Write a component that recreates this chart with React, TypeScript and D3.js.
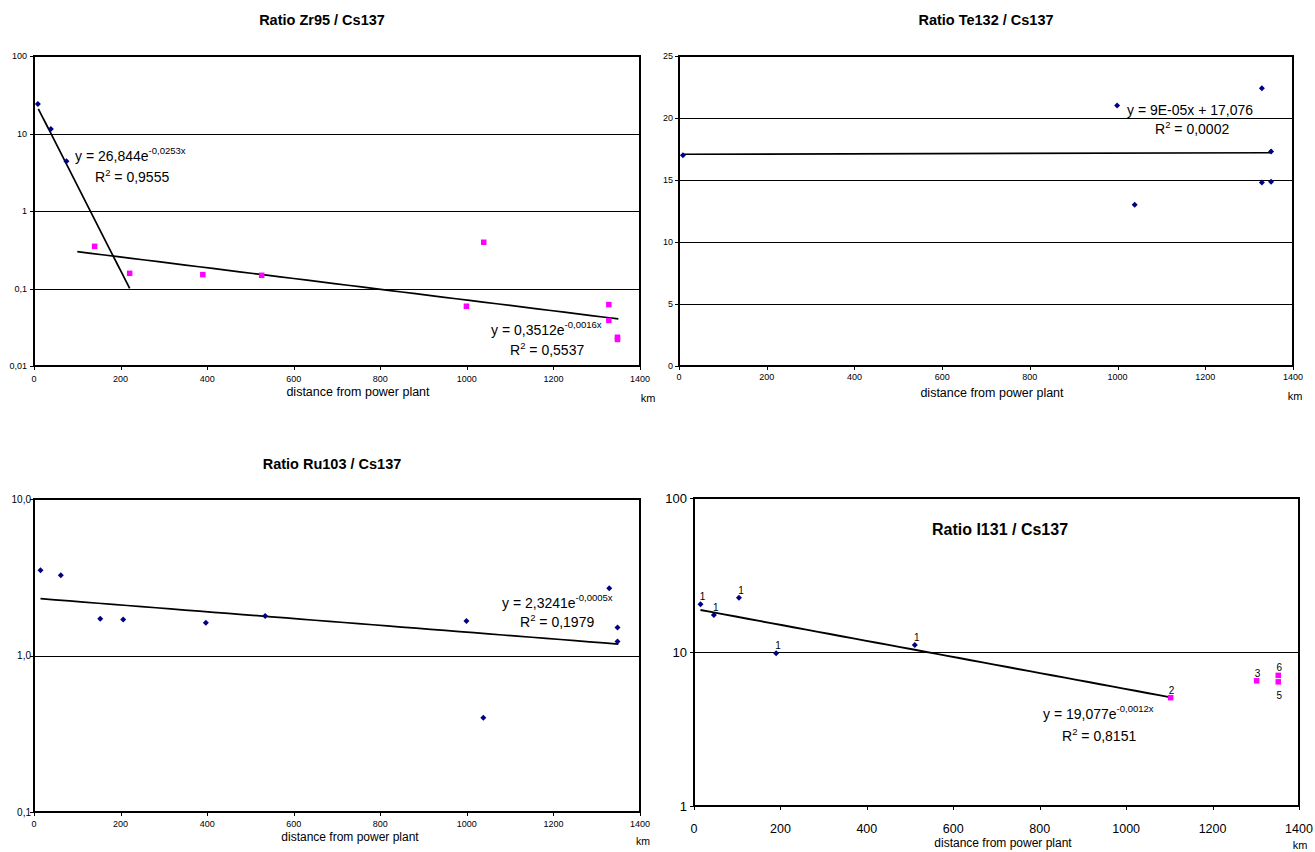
import React from 'react';
import * as d3 from 'd3';

const FONT = 'Liberation Sans, Arial, sans-serif';

// shared x ticks (km)
const xTicks = [0, 200, 400, 600, 800, 1000, 1200, 1400];

// ---------- Zr95 / Cs137 ----------
const zrBlueKm = [9, 39, 75];
const zrBlueVal = [24, 11.4, 4.4];
const zrPinkKm = [140, 221, 390, 526, 999, 1039, 1328, 1328, 1348, 1348];
const zrPinkVal = [0.35, 0.157, 0.151, 0.148, 0.059, 0.395, 0.062, 0.0387, 0.0235, 0.022];
const zrYTicks = [0.01, 0.1, 1, 10, 100];
const zrYLabels = ['0,01', '0,1', '1', '10', '100'];

// ---------- Te132 / Cs137 ----------
const teKm = [9, 999, 1039, 1329, 1329, 1350, 1350];
const teVal = [17.0, 21.0, 13.0, 22.4, 14.8, 17.3, 14.85];
const teYTicks = [0, 5, 10, 15, 20, 25];
const teYLabels = ['0', '5', '10', '15', '20', '25'];

// ---------- Ru103 / Cs137 ----------
const ruKm = [15, 62, 153, 206, 397, 534, 999, 1038, 1329, 1348, 1348];
const ruVal = [3.5, 3.26, 1.72, 1.7, 1.62, 1.79, 1.66, 0.4, 2.69, 1.51, 1.23];
const ruYTicks = [0.1, 1, 10];
const ruYLabels = ['0,1', '1,0', '10,0'];

// ---------- I131 / Cs137 ----------
const iBlueKm = [15, 46, 104, 190, 511];
const iBlueVal = [20.4, 17.4, 22.5, 9.8, 11.1];
const iBlueLabels = ['1', '1', '1', '1', '1'];
const iPinkKm = [1103, 1302, 1352, 1352];
const iPinkVal = [5.05, 6.5, 7.05, 6.4];
const iPinkLabels = ['2', '3', '6', '5'];
const iPinkLabelBelow = [false, false, false, true];
const iYTicks = [1, 10, 100];
const iYLabels = ['1', '10', '100'];

// trend lines (from the displayed equations)
const zrTrend = [
  { a: 26.844, b: -0.0253, from: 10, to: 221 },
  { a: 0.3512, b: -0.0016, from: 100, to: 1350 },
];
const teTrend = { slope: 9e-5, intercept: 17.076, from: 9, to: 1350 };
const ruTrend = { a: 2.3241, b: -0.0005, from: 15, to: 1350 };
const iTrend = { a: 19.077, b: -0.0012, from: 15, to: 1103 };

const NAVY = '#000080';
const MAGENTA = '#FF00FF';

type Scale = (v: number) => number;

function expPath(x: Scale, y: Scale, a: number, b: number, from: number, to: number) {
  const n = 40;
  const pts = d3.range(n + 1).map((i) => from + ((to - from) * i) / n);
  return d3.line<number>().x((d) => x(d)).y((d) => y(a * Math.exp(b * d)))(pts) || '';
}

function Diamond({ cx, cy }: { cx: number; cy: number }) {
  const r = 3;
  return <path d={`M${cx},${cy - r}L${cx + r},${cy}L${cx},${cy + r}L${cx - r},${cy}Z`} fill={NAVY} />;
}
function Square({ cx, cy }: { cx: number; cy: number }) {
  const s = 5.5;
  return <rect x={cx - s / 2} y={cy - s / 2} width={s} height={s} fill={MAGENTA} />;
}

function Frame(props: {
  x: any; y: any; xr: [number, number]; yr: [number, number];
  yTicks: number[]; yLabels: string[]; grid: number[];
  yFont: number; xFont: number; yLabelX: number; xLabelY: number;
  distY: number; distX: number; distFont: number; kmX: number; kmY: number; kmFont: number;
}) {
  const { x, y, xr, yr } = props;
  return (
    <g>
      <g shapeRendering="crispEdges">
        {props.grid.map((g) => (
          <line key={'g' + g} x1={xr[0]} x2={xr[1]} y1={Math.round(y(g)) + 0.5} y2={Math.round(y(g)) + 0.5} stroke="#000" strokeWidth={1} />
        ))}
        <rect x={xr[0]} y={yr[1]} width={xr[1] - xr[0]} height={yr[0] - yr[1]} fill="none" stroke="#000" strokeWidth={1.5} />
        <line x1={xr[0]} x2={xr[0]} y1={yr[1]} y2={yr[0]} stroke="#000" strokeWidth={2} />
        <line x1={xr[0]} x2={xr[1]} y1={yr[0]} y2={yr[0]} stroke="#000" strokeWidth={2} />
        {props.yTicks.map((t) => (
          <line key={'yt' + t} x1={xr[0] - 4} x2={xr[0]} y1={Math.round(y(t)) + 0.5} y2={Math.round(y(t)) + 0.5} stroke="#000" strokeWidth={1} />
        ))}
        {xTicks.map((t) => (
          <line key={'xt' + t} x1={Math.round(x(t)) + 0.5} x2={Math.round(x(t)) + 0.5} y1={yr[0]} y2={yr[0] + 4} stroke="#000" strokeWidth={1} />
        ))}
      </g>
      {props.yTicks.map((t, i) => (
        <text key={'yl' + t} x={props.yLabelX} y={y(t)} dy="0.35em" textAnchor="end" fontSize={props.yFont} fontFamily={FONT}>
          {props.yLabels[i]}
        </text>
      ))}
      {xTicks.map((t) => (
        <text key={'xl' + t} x={x(t)} y={props.xLabelY} textAnchor="middle" fontSize={props.xFont} fontFamily={FONT}>
          {t}
        </text>
      ))}
      <text x={props.distX} y={props.distY} textAnchor="middle" fontSize={props.distFont} fontFamily={FONT}>
        distance from power plant
      </text>
      <text x={props.kmX} y={props.kmY} textAnchor="middle" fontSize={props.kmFont} fontFamily={FONT}>
        km
      </text>
    </g>
  );
}

function ExpEq({ x, y, coef, exp, r2, rx, ry, size }: any) {
  const s = size * 0.68;
  return (
    <g fontFamily={FONT} fontSize={size}>
      <text x={x} y={y}>
        y = {coef}e<tspan fontSize={s} dy={-size * 0.5}>{exp}</tspan>
      </text>
      <text x={rx} y={ry}>
        R<tspan fontSize={s} dy={-size * 0.45}>2</tspan>
        <tspan dy={size * 0.45}> = {r2}</tspan>
      </text>
    </g>
  );
}

export default function App() {
  // Panel 1
  const x1 = d3.scaleLinear().domain([0, 1400]).range([34, 640]);
  const y1 = d3.scaleLog().domain([0.01, 100]).range([366, 56]);
  // Panel 2
  const x2 = d3.scaleLinear().domain([0, 1400]).range([679, 1293]);
  const y2 = d3.scaleLinear().domain([0, 25]).range([366, 56]);
  // Panel 3
  const x3 = d3.scaleLinear().domain([0, 1400]).range([34, 640]);
  const y3 = d3.scaleLog().domain([0.1, 10]).range([812, 499]);
  // Panel 4
  const x4 = d3.scaleLinear().domain([0, 1400]).range([694, 1299]);
  const y4 = d3.scaleLog().domain([1, 100]).range([806, 498]);

  return (
    <svg width={1315} height={852} style={{ position: 'absolute', left: 0, top: 0, background: '#fff' }}>
      <rect width={1315} height={852} fill="#fff" />

      {/* ---------- Panel 1 ---------- */}
      <text x={322} y={25} textAnchor="middle" fontSize={14.5} fontWeight="bold" fontFamily={FONT}>
        Ratio Zr95 / Cs137
      </text>
      <Frame x={x1} y={y1} xr={[34, 640]} yr={[366, 56]} yTicks={zrYTicks} yLabels={zrYLabels}
        grid={[0.1, 1, 10]} yFont={9} xFont={9} yLabelX={27} xLabelY={382}
        distX={358} distY={396} distFont={12.5} kmX={648} kmY={402} kmFont={11} />
      {zrTrend.map((t, i) => (
        <path key={'zt' + i} d={expPath(x1, y1, t.a, t.b, t.from, t.to)} fill="none" stroke="#000" strokeWidth={1.7} />
      ))}
      {zrBlueKm.map((k, i) => <Diamond key={'zb' + i} cx={x1(k)} cy={y1(zrBlueVal[i])} />)}
      {zrPinkKm.map((k, i) => <Square key={'zp' + i} cx={x1(k)} cy={y1(zrPinkVal[i])} />)}
      <ExpEq x={75} y={161} coef="26,844" exp="-0,0253x" r2="0,9555" rx={95} ry={182} size={14} />
      <ExpEq x={491} y={335} coef="0,3512" exp="-0,0016x" r2="0,5537" rx={510} ry={355} size={14} />

      {/* ---------- Panel 2 ---------- */}
      <text x={986} y={25} textAnchor="middle" fontSize={14.5} fontWeight="bold" fontFamily={FONT}>
        Ratio Te132 / Cs137
      </text>
      <Frame x={x2} y={y2} xr={[679, 1293]} yr={[366, 56]} yTicks={teYTicks} yLabels={teYLabels}
        grid={[5, 10, 15, 20]} yFont={9} xFont={9} yLabelX={673} xLabelY={380}
        distX={992} distY={397} distFont={12.5} kmX={1295} kmY={400} kmFont={11} />
      <path
        d={d3.line<number>().x((d) => x2(d)).y((d) => y2(teTrend.slope * d + teTrend.intercept))([teTrend.from, teTrend.to]) || ''}
        fill="none" stroke="#000" strokeWidth={1.7} />
      {teKm.map((k, i) => <Diamond key={'te' + i} cx={x2(k)} cy={y2(teVal[i])} />)}
      <g fontFamily={FONT} fontSize={14}>
        <text x={1127} y={115}>y = 9E-05x + 17,076</text>
        <text x={1155} y={134}>
          R<tspan fontSize={9.5} dy={-6.3}>2</tspan>
          <tspan dy={6.3}> = 0,0002</tspan>
        </text>
      </g>

      {/* ---------- Panel 3 ---------- */}
      <text x={332} y={469} textAnchor="middle" fontSize={14.5} fontWeight="bold" fontFamily={FONT}>
        Ratio Ru103 / Cs137
      </text>
      <Frame x={x3} y={y3} xr={[34, 640]} yr={[812, 499]} yTicks={ruYTicks} yLabels={ruYLabels}
        grid={[1]} yFont={10} xFont={9} yLabelX={31} xLabelY={827}
        distX={350} distY={841} distFont={12} kmX={643} kmY={845} kmFont={10.5} />
      <path d={expPath(x3, y3, ruTrend.a, ruTrend.b, ruTrend.from, ruTrend.to)} fill="none" stroke="#000" strokeWidth={1.7} />
      {ruKm.map((k, i) => <Diamond key={'ru' + i} cx={x3(k)} cy={y3(ruVal[i])} />)}
      <ExpEq x={502} y={608} coef="2,3241" exp="-0,0005x" r2="0,1979" rx={520} ry={627} size={14} />

      {/* ---------- Panel 4 ---------- */}
      <Frame x={x4} y={y4} xr={[694, 1299]} yr={[806, 498]} yTicks={iYTicks} yLabels={iYLabels}
        grid={[10]} yFont={13} xFont={12.5} yLabelX={687} xLabelY={833}
        distX={1003} distY={847} distFont={12} kmX={1300} kmY={849} kmFont={11} />
      <text x={1000} y={535} textAnchor="middle" fontSize={16} fontWeight="bold" fontFamily={FONT}>
        Ratio I131 / Cs137
      </text>
      <path d={expPath(x4, y4, iTrend.a, iTrend.b, iTrend.from, iTrend.to)} fill="none" stroke="#000" strokeWidth={1.9} />
      {iBlueKm.map((k, i) => (
        <g key={'ib' + i}>
          <Diamond cx={x4(k)} cy={y4(iBlueVal[i])} />
          <text x={x4(k) + 2} y={y4(iBlueVal[i]) - 4} textAnchor="middle" fontSize={10} fontFamily={FONT}>
            {iBlueLabels[i]}
          </text>
        </g>
      ))}
      {iPinkKm.map((k, i) => (
        <g key={'ip' + i}>
          <Square cx={x4(k)} cy={y4(iPinkVal[i])} />
          <text x={x4(k) + 1} y={y4(iPinkVal[i]) + (iPinkLabelBelow[i] ? 17 : -4)} textAnchor="middle" fontSize={10} fontFamily={FONT}>
            {iPinkLabels[i]}
          </text>
        </g>
      ))}
      <ExpEq x={1043} y={719} coef="19,077" exp="-0,0012x" r2="0,8151" rx={1062} ry={741} size={14} />
    </svg>
  );
}
